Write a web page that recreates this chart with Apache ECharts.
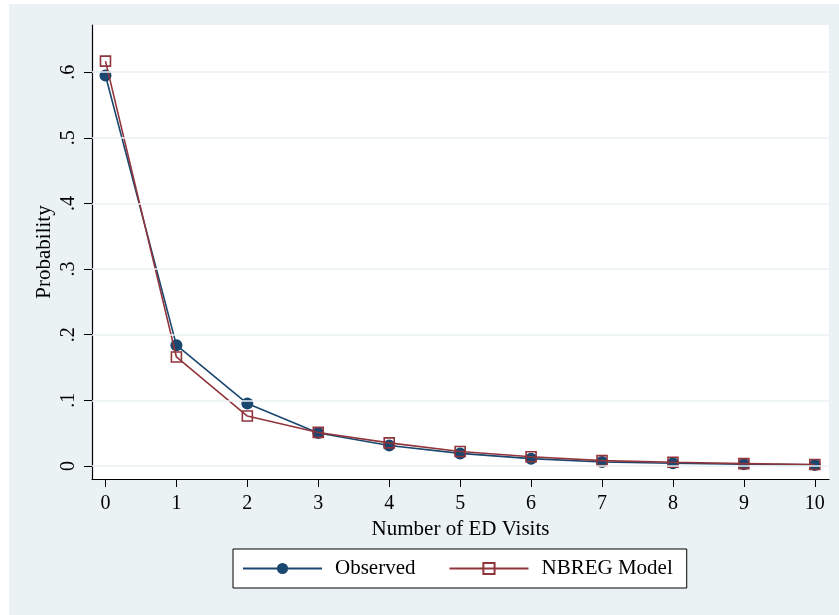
<!DOCTYPE html>
<html>
<head>
<meta charset="utf-8">
<script src="https://cdn.jsdelivr.net/npm/echarts@6/dist/echarts.min.js"></script>
<style>
  html, body { margin: 0; padding: 0; background: #fff; }
  #chart { width: 839px; height: 615px; }
</style>
</head>
<body>
<div id="chart"></div>
<script>
// number of ED visits 0..10
var visits = [0, 1, 2, 3, 4, 5, 6, 7, 8, 9, 10];
var observed = [0.595, 0.184, 0.095, 0.050, 0.031, 0.019, 0.011, 0.006, 0.004, 0.0025, 0.0015];
var nbreg = [0.617, 0.166, 0.076, 0.051, 0.035, 0.022, 0.014, 0.008, 0.0055, 0.0035, 0.002];
var yTicks = [0, 0.1, 0.2, 0.3, 0.4, 0.5, 0.6];

var font = 'Liberation Serif';
var navy = '#1a476f';
var maroon = '#90353b';

function pairs(ys){
	var out = [];
	for (var i = 0; i < visits.length; i++) {
		out.push([visits[i], ys[i]]);
	}
	return out;
}

var chart = echarts.init(document.getElementById('chart'));
var option = {
	backgroundColor: '#fff',
	animation: false,
	graphic: [{
		type: 'rect',
		z: -10,
		shape: { x: 9, y: 4, width: 830, height: 611 },
		style: { fill: '#eaf2f3' }
	}],
	grid: {
		left: 92, top: 25, right: 10, bottom: 136,
		show: true,
		backgroundColor: '#fff',
		borderWidth: 0
	},
	legend: {
		left: 233, top: 549,
		width: 454,
		padding: [9, 14, 9, 9],
		backgroundColor: '#fff',
		borderColor: '#000',
		borderWidth: 1,
		itemWidth: 79,
		itemHeight: 14,
		itemGap: 33,
		textStyle: { fontFamily: font, fontSize: 21, color: '#000', padding: [0, 0, 0, 8] },
		data: ['Observed', 'NBREG Model']
	},
	xAxis: {
		type: 'value',
		min: -0.19,
		max: 10.2,
		name: 'Number of ED Visits',
		nameLocation: 'middle',
		nameGap: 34,
		nameTextStyle: { fontFamily: font, fontSize: 21, color: '#000' },
		axisLine: { show: true, onZero: false, lineStyle: { color: '#000', width: 1.2 } },
		axisTick: { show: true, length: 8, customValues: visits, lineStyle: { color: '#000' } },
		axisLabel: { customValues: visits, margin: 15, fontFamily: font, fontSize: 20, color: '#000' },
		splitLine: { show: false }
	},
	yAxis: {
		type: 'value',
		min: -0.02,
		max: 0.672,
		name: 'Probability',
		nameLocation: 'middle',
		nameGap: 37,
		nameMoveOverlap: false,
		nameTextStyle: { fontFamily: font, fontSize: 21, color: '#000' },
		axisLine: { show: true, onZero: false, lineStyle: { color: '#000', width: 1.2 } },
		axisTick: { show: true, length: 8, customValues: yTicks, lineStyle: { color: '#000' } },
		axisLabel: {
			customValues: yTicks, rotate: 90, margin: 13,
			fontFamily: font, fontSize: 20, color: '#000',
			formatter: function(v){
				if (v === 0) return '0';
				return v.toFixed(1).replace(/^0/, '');
			}
		},
		splitLine: { show: false }
	},
	series: [{
		// horizontal grid lines at the y ticks
		type: 'line',
		data: [],
		z: 0,
		silent: true,
		markLine: {
			silent: true,
			symbol: 'none',
			label: { show: false },
			lineStyle: { color: '#eaf2f3', width: 1.5, type: 'solid' },
			data: yTicks.map(function(t){ return { yAxis: t }; })
		}
	}, {
		name: 'Observed',
		type: 'line',
		z: 2,
		data: pairs(observed),
		symbol: 'circle',
		symbolSize: 12,
		itemStyle: { color: navy },
		lineStyle: { color: navy, width: 1.6 }
	}, {
		name: 'NBREG Model',
		type: 'line',
		z: 3,
		data: pairs(nbreg),
		symbol: 'rect',
		symbolSize: 10,
		itemStyle: { color: 'rgba(0,0,0,0)', borderColor: maroon, borderWidth: 1.6 },
		lineStyle: { color: maroon, width: 1.6 }
	}]
};
chart.setOption(option);
</script>
</body>
</html>
